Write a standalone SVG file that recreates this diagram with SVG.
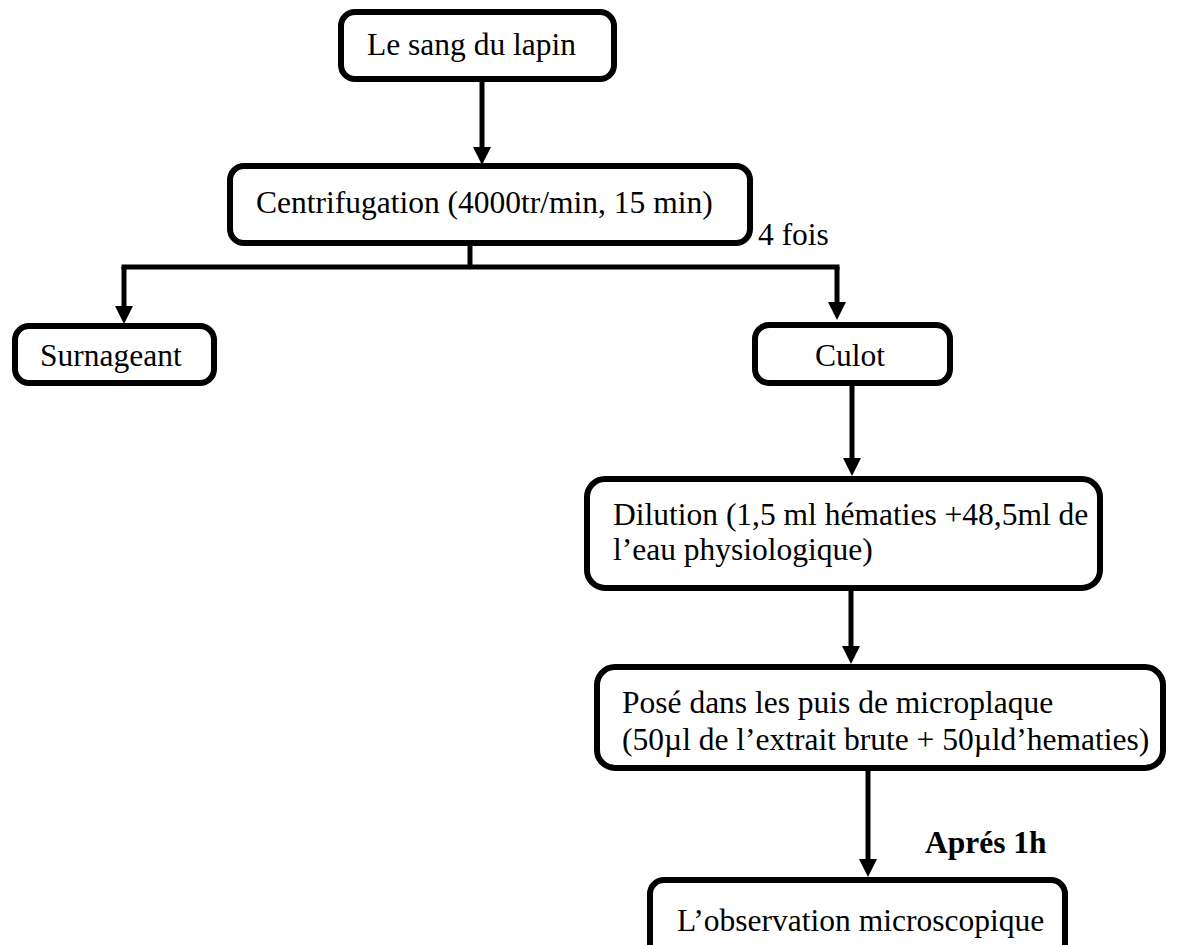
<svg xmlns="http://www.w3.org/2000/svg" width="1184" height="945" viewBox="0 0 1184 945">
<style>
.box{fill:#fff;stroke:#000;stroke-width:6}
.t{font-family:"Liberation Serif","Times New Roman",serif;font-size:31.5px;fill:#000}
.b{font-weight:bold}
.c{fill:none;stroke:#000;stroke-width:5}
</style>
<defs>
<marker id="ah" markerUnits="userSpaceOnUse" markerWidth="20" markerHeight="20" refX="0" refY="9" orient="auto"><path d="M0,0 L18,9 L0,18 z" fill="#000"/></marker>
</defs>
<rect width="1184" height="945" fill="#fff"/>
<g id="connectors">
<path class="c" d="M482,82 V147" marker-end="url(#ah)"/>
<path class="c" d="M470,246 V267"/>
<path class="c" d="M121.5,267 H839.5"/>
<path class="c" d="M124,267 V306" marker-end="url(#ah)"/>
<path class="c" d="M837,267 V302" marker-end="url(#ah)"/>
<path class="c" d="M852,386 V458" marker-end="url(#ah)"/>
<path class="c" d="M851,591 V646" marker-end="url(#ah)"/>
<path class="c" d="M868,771 V859" marker-end="url(#ah)"/>
<text class="t" x="758" y="245">4 fois</text>
<text class="t b" x="925" y="853">Aprés 1h</text>
</g>
<g id="n1"><rect class="box" x="341" y="12" width="273" height="67" rx="14"/><text class="t" x="367" y="55">Le sang du lapin</text></g>
<g id="n2"><rect class="box" x="230" y="166" width="520" height="77" rx="14"/><text class="t" x="256" y="213">Centrifugation (4000tr/min, 15 min)</text></g>
<g id="n3"><rect class="box" x="15" y="326" width="199" height="57" rx="14"/><text class="t" x="40" y="366">Surnageant</text></g>
<g id="n4"><rect class="box" x="755" y="325" width="195" height="58" rx="14"/><text class="t" x="850" y="366" text-anchor="middle">Culot</text></g>
<g id="n5"><rect class="box" x="587" y="479" width="513" height="109" rx="18"/><text class="t" x="613" y="525">Dilution (1,5 ml hématies +48,5ml de</text><text class="t" x="613" y="560">l’eau physiologique)</text></g>
<g id="n6"><rect class="box" x="597" y="667" width="566" height="101" rx="18"/><text class="t" x="622" y="713">Posé dans les puis de microplaque</text><text class="t" x="622" y="750">(50µl de l’extrait brute + 50µld’hematies)</text></g>
<g id="n7"><rect class="box" x="650" y="880" width="415" height="80" rx="14"/><text class="t" x="677" y="931">L’observation microscopique</text></g>
</svg>
